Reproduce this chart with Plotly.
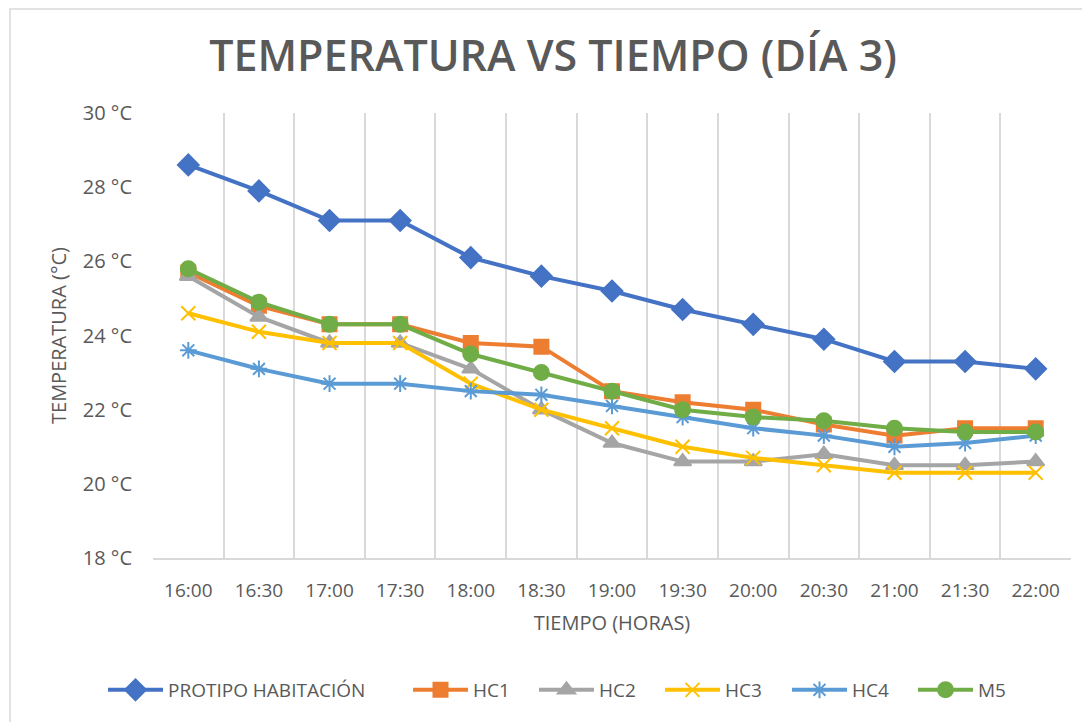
import plotly.graph_objects as go

categories = ["16:00", "16:30", "17:00", "17:30", "18:00", "18:30", "19:00",
              "19:30", "20:00", "20:30", "21:00", "21:30", "22:00"]

protipo = [28.6, 27.9, 27.1, 27.1, 26.1, 25.6, 25.2, 24.7, 24.3, 23.9, 23.3, 23.3, 23.1]
hc1 = [25.7, 24.8, 24.3, 24.3, 23.8, 23.7, 22.5, 22.2, 22.0, 21.6, 21.3, 21.5, 21.5]
hc2 = [25.6, 24.5, 23.8, 23.8, 23.1, 22.0, 21.1, 20.6, 20.6, 20.8, 20.5, 20.5, 20.6]
hc3 = [24.6, 24.1, 23.8, 23.8, 22.7, 22.0, 21.5, 21.0, 20.7, 20.5, 20.3, 20.3, 20.3]
hc4 = [23.6, 23.1, 22.7, 22.7, 22.5, 22.4, 22.1, 21.8, 21.5, 21.3, 21.0, 21.1, 21.3]
m5 = [25.8, 24.9, 24.3, 24.3, 23.5, 23.0, 22.5, 22.0, 21.8, 21.7, 21.5, 21.4, 21.4]

y_ticks = [18, 20, 22, 24, 26, 28, 30]
y_labels = [f"{v} °C" for v in y_ticks]

series = [
    ("PROTIPO HABITACIÓN", protipo, "#4472C4", "diamond", 16),
    ("HC1", hc1, "#ED7D31", "square", 14),
    ("HC2", hc2, "#A5A5A5", "triangle-up", 15),
    ("HC3", hc3, "#FFC000", "x-thin-open", 14),
    ("HC4", hc4, "#5B9BD5", "asterisk-open", 14),
    ("M5", m5, "#70AD47", "circle", 15),
]

FONT = "Open Sans"
GREY = "#595959"

# page is offset by the default 8px body margin
OFF = 8
W, H = 1090, 722
L, R, T, B = 153 - OFF, 19 + OFF, 113 - OFF, 164 + OFF
pw, ph = W - L - R, H - T - B

def px_x(p):
    return (p - OFF - L) / pw

def px_y(p):
    return (H - B - (p - OFF)) / ph

legend_x = [103, 408, 534, 660, 787, 913]

fig = go.Figure()
layout_legends = {}
for i, (name, vals, color, sym, size) in enumerate(series):
    key = "legend" if i == 0 else f"legend{i + 1}"
    fig.add_trace(go.Scatter(
        x=categories, y=vals, name=name, mode="lines+markers",
        line=dict(color=color, width=4),
        marker=dict(symbol=sym, size=size, color=color,
                    line=dict(color=color, width=2)),
        legend=key,
    ))
    layout_legends[key] = dict(
        orientation="h", x=px_x(legend_x[i]), xanchor="left",
        y=px_y(690), yanchor="middle",
        font=dict(family=FONT, size=19, color=GREY),
        itemwidth=55,
        bgcolor="rgba(0,0,0,0)", borderwidth=0,
    )

fig.update_layout(
    width=W, height=H,
    margin=dict(l=L, r=R, t=T, b=B),
    paper_bgcolor="white", plot_bgcolor="white",
    font=dict(family=FONT, color=GREY, size=18),
    title=dict(text="TEMPERATURA VS TIEMPO (DÍA 3)",
               font=dict(family=FONT, size=43, color=GREY, weight=600),
               x=0.5, xanchor="center", y=1 - (56 - OFF) / H, yanchor="middle"),
    showlegend=True,
    xaxis=dict(
        type="category", categoryorder="array", categoryarray=categories,
        tickson="boundaries", showgrid=True, gridcolor="#D9D9D9", gridwidth=1.5,
        showline=True, linecolor="#D9D9D9", linewidth=1.5,
        ticks="", tickfont=dict(size=19, color=GREY),
        ticklabelstandoff=14,
        title=dict(text="TIEMPO (HORAS)", font=dict(size=20, color=GREY), standoff=14),
        range=[-0.5, 12.5], zeroline=False,
    ),
    yaxis=dict(
        range=[18, 30], tickvals=y_ticks, ticktext=y_labels,
        showgrid=False, zeroline=False, showline=False,
        ticks="", tickfont=dict(size=20, color=GREY),
        ticklabelstandoff=20,
        title=dict(text="TEMPERATURA (°C)", font=dict(size=20, color=GREY), standoff=10),
    ),
    shapes=[dict(type="rect", xref="paper", yref="paper",
                 x0=px_x(10), x1=px_x(1110), y0=px_y(740), y1=px_y(9),
                 line=dict(color="#D9D9D9", width=1.5), fillcolor="rgba(0,0,0,0)",
                 layer="below")],
    **layout_legends,
)

fig.write_html("out.html")
